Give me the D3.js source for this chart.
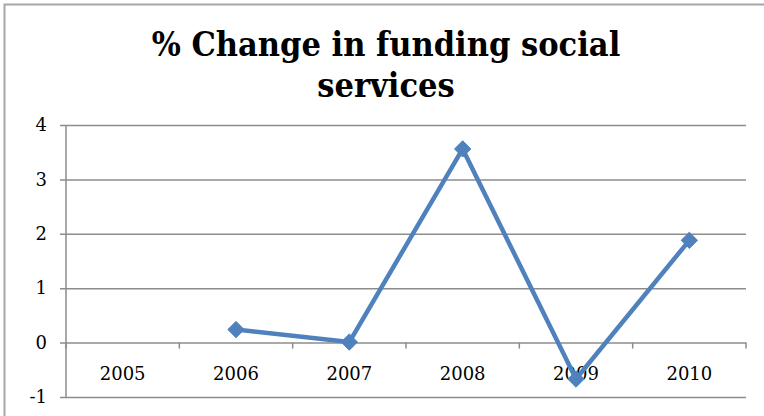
<!DOCTYPE html>
<html>
<head>
<meta charset="utf-8">
<script src="https://cdn.jsdelivr.net/npm/d3@7"></script>
<style>
  html, body { margin: 0; padding: 0; background: #fff; }
  svg { display: block; }
</style>
</head>
<body>
<svg id="chart" width="764" height="416"></svg>
<script>
// Year-over-year % change in funding for social services
const years = ["2005", "2006", "2007", "2008", "2009", "2010"];
const values = [null, 0.24, 0.01, 3.56, -0.67, 1.88];
const yTicks = [-1, 0, 1, 2, 3, 4];
const titleLines = ["% Change in funding social", "services"];

const svg = d3.select("#chart");
const W = 764, H = 416;
const margin = { left: 66, right: 18, top: 125, bottom: 19 };

// outer chart frame
svg.append("rect")
  .attr("x", 4.5).attr("y", 4.5)
  .attr("width", W + 10).attr("height", H + 10)
  .attr("fill", "#fff")
  .attr("stroke", "#a6a6a6")
  .attr("stroke-width", 2);

// title
svg.append("text")
  .attr("text-anchor", "middle")
  .attr("font-family", "'DejaVu Serif Condensed', 'DejaVu Serif', serif")
  .attr("font-weight", "bold")
  .attr("font-size", 34)
  .attr("fill", "#000")
  .selectAll("tspan")
  .data(titleLines)
  .join("tspan")
  .attr("x", 386)
  .attr("y", (d, i) => 56 + i * 41)
  .text(d => d);

const x = d3.scaleBand()
  .domain(years)
  .range([margin.left, W - margin.right])
  .paddingInner(0).paddingOuter(0);

const y = d3.scaleLinear()
  .domain([-1, 4])
  .range([H - margin.bottom, margin.top]);

const gridColor = "#8c8c8c";
const labelFont = "'DejaVu Serif', serif";

// horizontal gridlines with left tick marks and labels
const yAxis = d3.axisLeft(y)
  .tickValues(yTicks)
  .tickSize(0)
  .tickFormat(d => String(d))
  .tickPadding(13);

const gy = svg.append("g")
  .attr("transform", `translate(${margin.left - 6},0)`)
  .call(yAxis);
gy.select(".domain").remove();
gy.selectAll(".tick line")
  .attr("x1", 0)
  .attr("x2", W - margin.right - margin.left + 6)
  .attr("stroke", gridColor)
  .attr("stroke-width", 1.5);
gy.selectAll(".tick text")
  .attr("font-family", labelFont)
  .attr("font-size", 18)
  .attr("fill", "#000");

// vertical axis line
svg.append("line")
  .attr("x1", margin.left).attr("x2", margin.left)
  .attr("y1", y(4)).attr("y2", y(-1))
  .attr("stroke", gridColor)
  .attr("stroke-width", 1.5);

// category axis at zero with boundary tick marks
const xAxis = d3.axisBottom(x)
  .tickSize(0)
  .tickPadding(0);
const gx = svg.append("g")
  .attr("transform", `translate(0,${y(0)})`)
  .call(xAxis);
gx.select(".domain").remove();
gx.selectAll(".tick text")
  .attr("y", 37)
  .attr("dy", 0)
  .attr("font-family", labelFont)
  .attr("font-size", 18)
  .attr("fill", "#000");

const boundaries = years.map(d => x(d) + x.bandwidth()).concat([x(years[0])]);
svg.append("g")
  .selectAll("line")
  .data(boundaries)
  .join("line")
  .attr("x1", d => d).attr("x2", d => d)
  .attr("y1", y(0)).attr("y2", y(0) + 6)
  .attr("stroke", gridColor)
  .attr("stroke-width", 1.5);

// series line
const pts = years.map((d, i) => ({ year: d, value: values[i] }))
  .filter(d => d.value !== null);
const cx = d => x(d.year) + x.bandwidth() / 2;

svg.append("path")
  .datum(pts)
  .attr("fill", "none")
  .attr("stroke", "#4f81bd")
  .attr("stroke-width", 4.5)
  .attr("stroke-linejoin", "round")
  .attr("d", d3.line().x(cx).y(d => y(d.value)));

// diamond markers
svg.append("g")
  .selectAll("path")
  .data(pts)
  .join("path")
  .attr("transform", d => `translate(${cx(d)},${y(d.value)})`)
  .attr("d", d3.symbol(d3.symbolDiamond2, 170)())
  .attr("fill", "#4f81bd")
  .attr("stroke", "#4f81bd")
  .attr("stroke-width", 1);
</script>
</body>
</html>
